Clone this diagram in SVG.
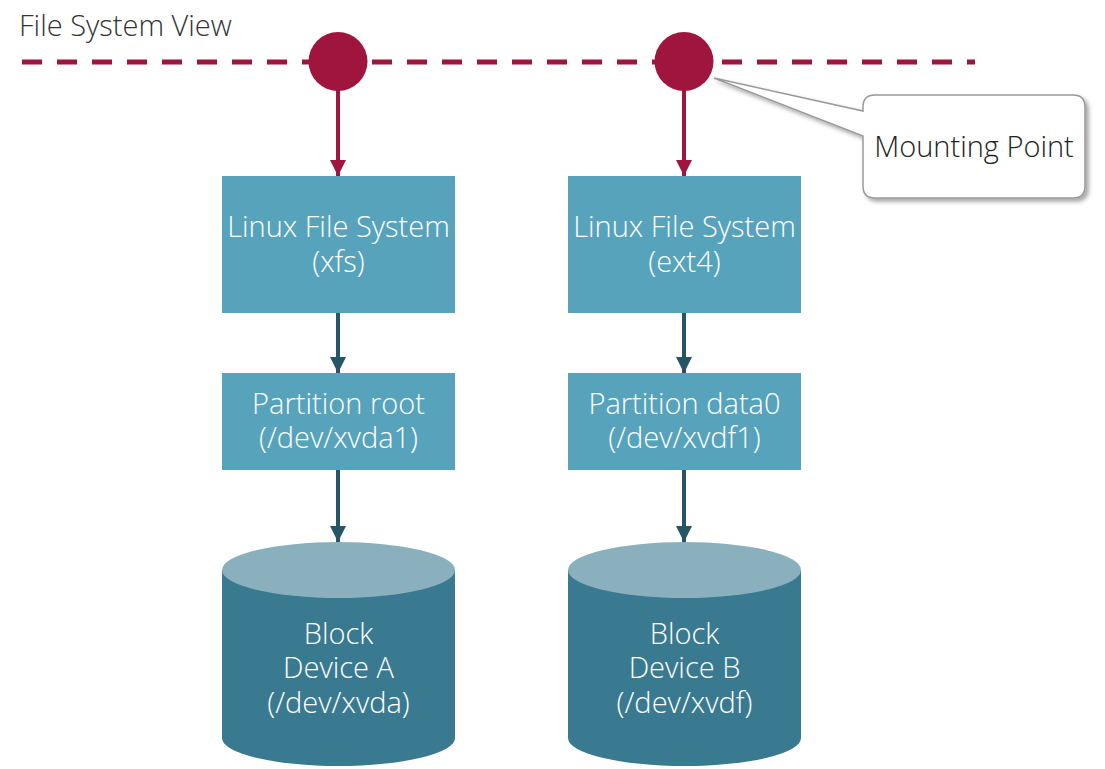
<svg xmlns="http://www.w3.org/2000/svg" width="1105" height="769" viewBox="0 0 1105 769">
<style>
text{font-family:"Open Sans","Noto Sans","Liberation Sans",sans-serif;font-weight:300;font-size:29px}
.w{fill:#ffffff;text-anchor:middle}
.box{fill:#57A3BC}
.cylb{fill:#3A7A91}
.cylt{fill:#8AB0BD}
.red{stroke:#A0153E;stroke-width:4;fill:none}
.dark{stroke:#265666;stroke-width:4;fill:none}
</style>
<defs>
<marker id="ar" viewBox="0 0 10 10" refX="10" refY="5" markerWidth="4" markerHeight="4" markerUnits="strokeWidth" orient="auto"><path d="M0,0 L10,5 L0,10 z" fill="#A0153E"/></marker>
<marker id="ad" viewBox="0 0 10 10" refX="10" refY="5" markerWidth="4" markerHeight="4" markerUnits="strokeWidth" orient="auto"><path d="M0,0 L10,5 L0,10 z" fill="#265666"/></marker>
<filter id="sh" x="-10%" y="-10%" width="130%" height="130%"><feDropShadow dx="3" dy="3" stdDeviation="2" flood-color="#000" flood-opacity="0.35"/></filter>
</defs>
<text x="19" y="36" fill="#333333">File System View</text>
<line x1="22" y1="62" x2="975" y2="62" stroke="#A0153E" stroke-width="5" stroke-dasharray="20 15"/>
<g id="connectors">
<line class="red" x1="338" y1="90" x2="338" y2="176" marker-end="url(#ar)"/>
<line class="red" x1="684" y1="90" x2="684" y2="176" marker-end="url(#ar)"/>
<line class="dark" x1="338" y1="313" x2="338" y2="373" marker-end="url(#ad)"/>
<line class="dark" x1="684" y1="313" x2="684" y2="373" marker-end="url(#ad)"/>
<line class="dark" x1="338" y1="470" x2="338" y2="542" marker-end="url(#ad)"/>
<line class="dark" x1="684" y1="470" x2="684" y2="542" marker-end="url(#ad)"/>
</g>
<g id="mount1"><circle cx="338" cy="61.5" r="29.5" fill="#A0153E"/></g>
<g id="mount2"><circle cx="684" cy="61.5" r="29.5" fill="#A0153E"/></g>
<g id="fs1"><rect class="box" x="222" y="176" width="233" height="137"/>
<text class="w" x="338.5" y="237">Linux File System</text><text class="w" x="338.5" y="272">(xfs)</text></g>
<g id="fs2"><rect class="box" x="568" y="176" width="233" height="137"/>
<text class="w" x="684.5" y="237">Linux File System</text><text class="w" x="684.5" y="272">(ext4)</text></g>
<g id="part1"><rect class="box" x="222" y="373" width="233" height="97"/>
<text class="w" x="338.5" y="414">Partition root</text><text class="w" x="338.5" y="448">(/dev/xvda1)</text></g>
<g id="part2"><rect class="box" x="568" y="373" width="233" height="97"/>
<text class="w" x="684.5" y="414">Partition data0</text><text class="w" x="684.5" y="448">(/dev/xvdf1)</text></g>
<g id="blockA">
<path class="cylb" d="M222,570 L222,738 A116.5,28 0 0 0 455,738 L455,570 z"/>
<ellipse class="cylt" cx="338.5" cy="570" rx="116.5" ry="28"/>
<text class="w" x="338.5" y="644">Block</text><text class="w" x="338.5" y="678">Device A</text><text class="w" x="338.5" y="713">(/dev/xvda)</text></g>
<g id="blockB">
<path class="cylb" d="M568,570 L568,738 A116.5,28 0 0 0 801,738 L801,570 z"/>
<ellipse class="cylt" cx="684.5" cy="570" rx="116.5" ry="28"/>
<text class="w" x="684.5" y="644">Block</text><text class="w" x="684.5" y="678">Device B</text><text class="w" x="684.5" y="713">(/dev/xvdf)</text></g>
<g id="callout">
<path d="M875,95 L1073,95 Q1085,95 1085,107 L1085,186 Q1085,198 1073,198 L875,198 Q863,198 863,186 L863,136 L714,78 L863,111 L863,107 Q863,95 875,95 z" fill="#ffffff" stroke="#999999" stroke-width="1.5" filter="url(#sh)"/>
<text x="974" y="157" fill="#222222" text-anchor="middle">Mounting Point</text></g>
</svg>
